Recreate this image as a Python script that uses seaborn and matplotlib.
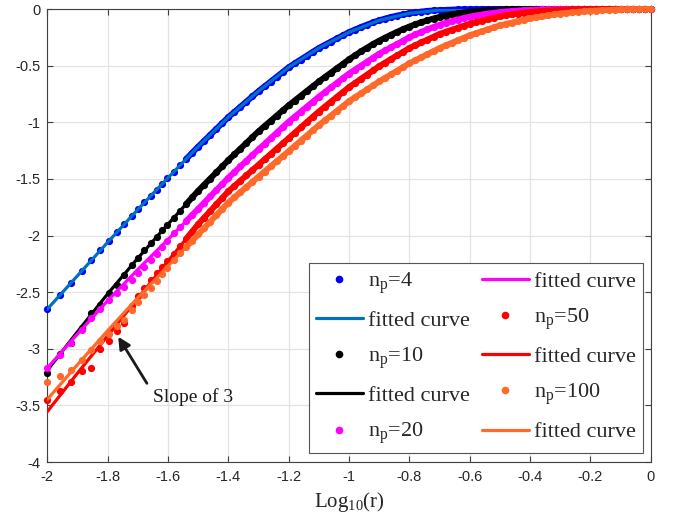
import numpy as np
import pandas as pd
import matplotlib
matplotlib.use("Agg")
import matplotlib.pyplot as plt
from matplotlib.lines import Line2D
from matplotlib.font_manager import FontProperties
import seaborn as sns

# ---------------- data ----------------
X_DOTS = [-2.000, -1.959, -1.921, -1.886, -1.854, -1.824, -1.796, -1.770, -1.745, -1.721,
          -1.699, -1.678, -1.658, -1.638, -1.620, -1.602,
          -1.58, -1.56, -1.54, -1.52, -1.50, -1.48, -1.46, -1.44, -1.42, -1.40,
          -1.38, -1.36, -1.34, -1.32, -1.30, -1.28, -1.26, -1.24, -1.22, -1.20,
          -1.18, -1.16, -1.14, -1.12, -1.10, -1.08, -1.06, -1.04, -1.02, -1.00,
          -0.98, -0.96, -0.94, -0.92, -0.90, -0.88, -0.86, -0.84, -0.82, -0.80,
          -0.78, -0.76, -0.74, -0.72, -0.70, -0.68, -0.66, -0.64, -0.62, -0.60,
          -0.58, -0.56, -0.54, -0.52, -0.50, -0.48, -0.46, -0.44, -0.42, -0.40,
          -0.38, -0.36, -0.34, -0.32, -0.30, -0.28, -0.26, -0.24, -0.22, -0.20,
          -0.18, -0.16, -0.14, -0.12, -0.10, -0.08, -0.06, -0.04, -0.02, 0.00]

DOTS_NP4 = [-2.650, -2.529, -2.417, -2.313, -2.219, -2.130, -2.048, -1.972, -1.900, -1.830,
            -1.767, -1.707, -1.650, -1.594, -1.543, -1.493,
            -1.435, -1.380, -1.325, -1.270, -1.215, -1.163, -1.111, -1.059, -1.007, -0.955,
            -0.909, -0.863, -0.817, -0.771, -0.725, -0.683, -0.641, -0.599, -0.557, -0.515,
            -0.480, -0.446, -0.412, -0.378, -0.345, -0.316, -0.288, -0.260, -0.232, -0.205,
            -0.181, -0.159, -0.138, -0.118, -0.100, -0.084, -0.070, -0.058, -0.047, -0.038,
            -0.030, -0.023, -0.017, -0.013, -0.010, -0.008, -0.006, -0.004, -0.003, -0.002,
            -0.001, -0.001, 0, 0, 0, 0, 0, 0, 0, 0,
            0, 0, 0, 0, 0, 0, 0, 0, 0, 0,
            0, 0, 0, 0, 0, 0, 0, 0, 0, 0]

DOTS_NP10 = [-3.210, -3.050, -2.945, -2.820, -2.680, -2.610, -2.510, -2.435, -2.345, -2.262,
             -2.195, -2.130, -2.070, -2.010, -1.955, -1.905,
             -1.841, -1.782, -1.723, -1.664, -1.605, -1.551, -1.497, -1.443, -1.389, -1.335,
             -1.284, -1.233, -1.182, -1.131, -1.080, -1.034, -0.988, -0.942, -0.896, -0.850,
             -0.808, -0.766, -0.724, -0.682, -0.640, -0.601, -0.562, -0.523, -0.484, -0.445,
             -0.409, -0.374, -0.341, -0.309, -0.280, -0.252, -0.226, -0.201, -0.177, -0.155,
             -0.135, -0.117, -0.100, -0.084, -0.070, -0.058, -0.048, -0.039, -0.031, -0.025,
             -0.020, -0.015, -0.011, -0.008, -0.006, -0.004, -0.003, -0.002, -0.001, 0,
             0, 0, 0, 0, 0, 0, 0, 0, 0, 0,
             0, 0, 0, 0, 0, 0, 0, 0, 0, 0]

DOTS_NP20 = [-3.170, -3.055, -2.950, -2.835, -2.725, -2.650, -2.570, -2.505, -2.455, -2.390,
             -2.330, -2.280, -2.220, -2.160, -2.105, -2.050,
             -1.981, -1.927, -1.873, -1.819, -1.765, -1.710, -1.655, -1.600, -1.545, -1.490,
             -1.440, -1.390, -1.340, -1.290, -1.240, -1.191, -1.142, -1.093, -1.044, -0.995,
             -0.951, -0.907, -0.863, -0.819, -0.775, -0.734, -0.693, -0.652, -0.611, -0.570,
             -0.535, -0.500, -0.465, -0.430, -0.395, -0.366, -0.337, -0.308, -0.279, -0.250,
             -0.225, -0.202, -0.180, -0.159, -0.140, -0.123, -0.108, -0.094, -0.080, -0.068,
             -0.058, -0.049, -0.041, -0.034, -0.027, -0.022, -0.018, -0.014, -0.011, -0.008,
             -0.006, -0.004, -0.003, -0.002, -0.001, 0, 0, 0, 0, 0,
             0, 0, 0, 0, 0, 0, 0, 0, 0, 0]

DOTS_NP50 = [-3.450, -3.370, -3.290, -3.200, -3.170, -3.000, -2.930, -2.840, -2.770, -2.620,
             -2.530, -2.465, -2.395, -2.330, -2.275, -2.225,
             -2.160, -2.095, -2.030, -1.965, -1.900, -1.842, -1.784, -1.726, -1.668, -1.610,
             -1.563, -1.516, -1.469, -1.422, -1.375, -1.328, -1.281, -1.234, -1.187, -1.140,
             -1.093, -1.046, -0.999, -0.952, -0.905, -0.862, -0.819, -0.776, -0.733, -0.690,
             -0.653, -0.616, -0.579, -0.542, -0.505, -0.473, -0.441, -0.409, -0.377, -0.345,
             -0.320, -0.295, -0.270, -0.245, -0.220, -0.202, -0.184, -0.166, -0.148, -0.130,
             -0.117, -0.104, -0.091, -0.078, -0.065, -0.056, -0.048, -0.040, -0.033, -0.027,
             -0.022, -0.018, -0.014, -0.011, -0.008, -0.006, -0.004, -0.003, -0.002, -0.001,
             0, 0, 0, 0, 0, 0, 0, 0, 0, 0]

DOTS_NP100 = [-3.290, -3.240, -3.190, -3.100, -3.010, -2.935, -2.870, -2.800, -2.745, -2.660,
              -2.590, -2.525, -2.460, -2.400, -2.340, -2.285,
              -2.214, -2.158, -2.102, -2.046, -1.990, -1.934, -1.878, -1.822, -1.766, -1.710,
              -1.664, -1.618, -1.572, -1.526, -1.480, -1.435, -1.390, -1.345, -1.300, -1.255,
              -1.209, -1.163, -1.117, -1.071, -1.025, -0.983, -0.941, -0.899, -0.857, -0.815,
              -0.780, -0.745, -0.710, -0.675, -0.640, -0.608, -0.576, -0.544, -0.512, -0.480,
              -0.453, -0.426, -0.399, -0.372, -0.345, -0.322, -0.300, -0.277, -0.255, -0.232,
              -0.215, -0.197, -0.180, -0.162, -0.145, -0.132, -0.120, -0.107, -0.095, -0.082,
              -0.074, -0.065, -0.057, -0.048, -0.040, -0.035, -0.030, -0.025, -0.021, -0.016,
              -0.014, -0.011, -0.009, -0.006, -0.004, -0.003, -0.002, -0.001, 0, 0]

X_FIT = [-2.0, -1.9, -1.8, -1.7, -1.6, -1.5, -1.4, -1.3, -1.2, -1.1, -1.0,
         -0.9, -0.8, -0.7, -0.6, -0.5, -0.4, -0.3, -0.2, -0.1, 0.0]
FIT_NP4 = [-2.650, -2.355, -2.060, -1.770, -1.490, -1.215, -0.955, -0.725, -0.515, -0.345, -0.205,
           -0.100, -0.038, -0.010, -0.002, 0, 0, 0, 0, 0, 0]
FIT_NP10 = [-3.190, -2.850, -2.515, -2.200, -1.900, -1.605, -1.335, -1.080, -0.850, -0.640, -0.445,
            -0.280, -0.155, -0.070, -0.025, -0.006, 0, 0, 0, 0, 0]
FIT_NP20 = [-3.170, -2.870, -2.575, -2.300, -2.035, -1.765, -1.490, -1.240, -0.995, -0.775, -0.570,
            -0.395, -0.250, -0.140, -0.068, -0.027, -0.008, -0.001, 0, 0, 0]
FIT_NP50 = [-3.555, -3.215, -2.885, -2.555, -2.225, -1.900, -1.610, -1.375, -1.140, -0.905, -0.690,
            -0.505, -0.345, -0.220, -0.130, -0.065, -0.027, -0.008, -0.001, 0, 0]
FIT_NP100 = [-3.447, -3.140, -2.840, -2.550, -2.270, -1.990, -1.710, -1.480, -1.255, -1.025, -0.815,
             -0.640, -0.480, -0.345, -0.232, -0.145, -0.082, -0.040, -0.016, -0.004, 0]

SERIES_LABELS = ["n$_\\mathregular{p}$=4", "n$_\\mathregular{p}$=10", "n$_\\mathregular{p}$=20",
                 "n$_\\mathregular{p}$=50", "n$_\\mathregular{p}$=100"]
FIT_LABEL = "fitted curve"
X_TICKS = [-2, -1.8, -1.6, -1.4, -1.2, -1, -0.8, -0.6, -0.4, -0.2, 0]
X_TICK_LABELS = ["-2", "-1.8", "-1.6", "-1.4", "-1.2", "-1", "-0.8", "-0.6", "-0.4", "-0.2", "0"]
Y_TICKS = [-4, -3.5, -3, -2.5, -2, -1.5, -1, -0.5, 0]
Y_TICK_LABELS = ["-4", "-3.5", "-3", "-2.5", "-2", "-1.5", "-1", "-0.5", "0"]
X_LABEL = "Log$_\\mathregular{10}$(r)"
ANNOT_TEXT = "Slope of 3"

# ---------------- style ----------------
sns.set_theme(style="white")
plt.rcParams["font.family"] = ["Liberation Sans", "DejaVu Sans"]
plt.rcParams["axes.unicode_minus"] = False
plt.rcParams["mathtext.default"] = "regular"

DOT_COLORS = ["#0000ff", "#000000", "#ff00ff", "#ff0000", "#ff6929"]
FIT_COLORS = ["#0072bd", "#000000", "#ff00ff", "#ff0000", "#ff6929"]
DENSE_FROM = 18  # from here on the measured dots are so dense that they merge into a band

fig = plt.figure(figsize=(6.82, 5.24), dpi=100)
ax = fig.add_axes([0.0694, 0.1183, 0.8848, 0.8645])

dots = [DOTS_NP4, DOTS_NP10, DOTS_NP20, DOTS_NP50, DOTS_NP100]
fits = [FIT_NP4, FIT_NP10, FIT_NP20, FIT_NP50, FIT_NP100]

z = 3
for i in range(5):
    df_d = pd.DataFrame({"x": X_DOTS, "y": dots[i]})
    # merged band of the dense dots
    band = df_d.iloc[DENSE_FROM:]
    sns.lineplot(data=band, x="x", y="y", color=DOT_COLORS[i], lw=4.3, ax=ax,
                 legend=False, sort=False, estimator=None, zorder=z,
                 solid_capstyle="round", solid_joinstyle="round", clip_on=False)
    sns.scatterplot(data=df_d, x="x", y="y", color=DOT_COLORS[i], s=27, linewidth=0,
                    ax=ax, legend=False, clip_on=False, zorder=z)
    df_f = pd.DataFrame({"x": X_FIT, "y": fits[i]})
    sns.lineplot(data=df_f, x="x", y="y", color=FIT_COLORS[i], lw=2.3, ax=ax,
                 legend=False, sort=False, estimator=None, zorder=z + 1)
    z += 2

ax.set_xlim(-2, 0)
ax.set_ylim(-4, 0)
ax.set_xticks(X_TICKS)
ax.set_xticklabels(X_TICK_LABELS)
ax.set_yticks(Y_TICKS)
ax.set_yticklabels(Y_TICK_LABELS)
ax.grid(True, color="#e3e3e3", lw=0.9)
ax.set_axisbelow(True)
for sp in ax.spines.values():
    sp.set_visible(True)
    sp.set_color("#404040")
    sp.set_linewidth(0.8)
ax.tick_params(axis="both", direction="in", length=4.5, width=0.8, color="#404040",
               labelsize=10.5, labelcolor="#262626", top=True, right=True,
               bottom=True, left=True)
ax.tick_params(axis="x", pad=6)
ax.tick_params(axis="y", pad=5)
ax.set_xlabel(X_LABEL, family="Liberation Serif", fontsize=15, color="#262626", labelpad=4)
ax.set_ylabel("")

# legend
handles, labels = [], []
for i in range(5):
    handles.append(Line2D([], [], ls="", marker="o", markersize=4.5, color=DOT_COLORS[i]))
    labels.append(SERIES_LABELS[i])
    handles.append(Line2D([], [], ls="-", lw=2.3, color=FIT_COLORS[i]))
    labels.append(FIT_LABEL)
leg = ax.legend(handles, labels, ncol=2, loc="lower right", bbox_to_anchor=(0.987, 0.02),
                borderaxespad=0, prop=FontProperties(family="Liberation Serif", size=16),
                handlelength=2.1, handletextpad=0.25, columnspacing=0.55,
                labelspacing=0.66, borderpad=0.3, frameon=True, fancybox=False,
                framealpha=1, edgecolor="#555555")
leg.get_frame().set_linewidth(0.8)
leg.set_zorder(20)

# annotation
ax.annotate("", xy=(-1.765, -2.894), xytext=(-1.670, -3.305),
            arrowprops=dict(arrowstyle="-|>", color="k", lw=2.0, mutation_scale=18,
                            shrinkA=0, shrinkB=0), zorder=15)
ax.text(-1.649, -3.43, ANNOT_TEXT, family="Liberation Serif", fontsize=14,
        va="center", ha="left", color="k", zorder=15)

fig.savefig("out.png", dpi=100)
